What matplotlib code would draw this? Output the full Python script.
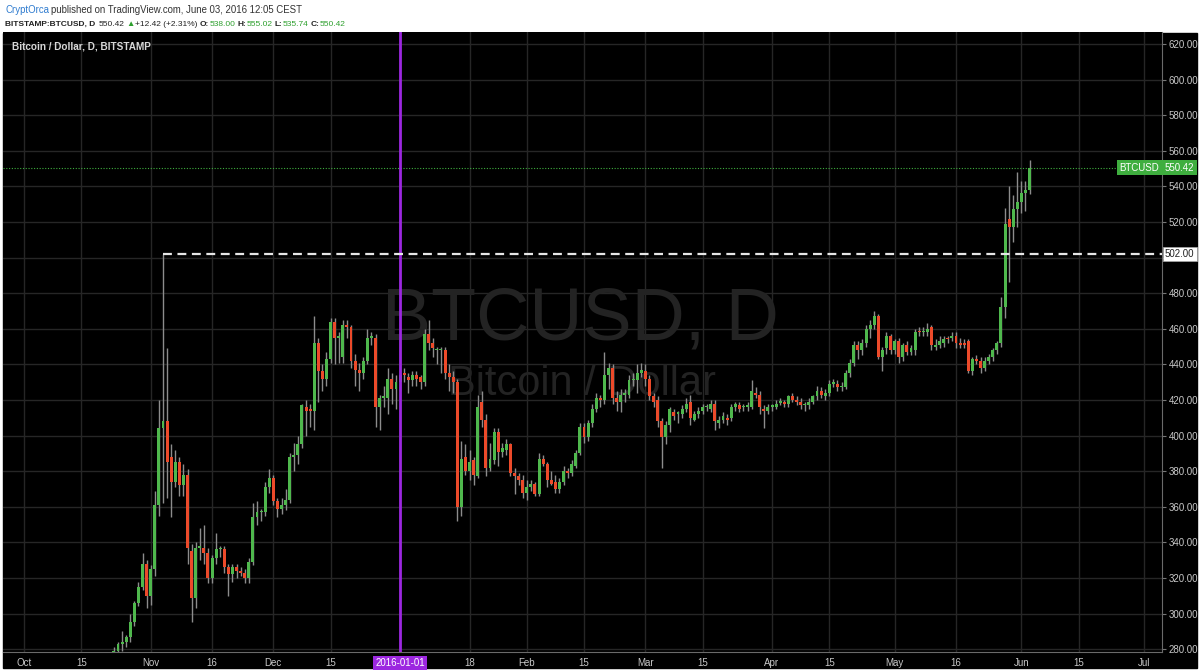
import matplotlib
matplotlib.use("Agg")
import matplotlib.pyplot as plt
import matplotlib.dates as mdates
from matplotlib import font_manager
from matplotlib.patches import Rectangle
import matplotlib.transforms as mtransforms
import numpy as np
import pandas as pd

# daily candles, BITSTAMP BTCUSD, (open, high, low, close)
oct_2015 = [  # from Oct 18
    (262, 264, 259, 263), (263, 266, 261, 264), (264, 272, 263, 270), (270, 272, 264, 266),
    (266, 278, 265, 275), (275, 281, 274, 279), (279, 284, 277, 283), (283, 290, 279, 284),
    (284, 288, 281, 287), (287, 300, 284, 295), (295, 307, 293, 306), (306, 318, 304, 315),
    (315, 334, 313, 328), (328, 330, 303, 310),
]
nov_2015 = [
    (310, 327, 305, 325), (325, 369, 321, 361), (361, 420, 355, 404), (404, 502, 362, 408),
    (408, 449, 365, 385), (388, 395, 354, 374), (374, 392, 371, 385), (385, 388, 366, 372),
    (372, 384, 366, 378), (378, 381, 328, 337), (335, 339, 295, 309), (309, 340, 303, 337),
    (337, 348, 330, 338), (337, 350, 328, 334), (334, 337, 317, 320), (320, 333, 317, 331),
    (331, 345, 328, 336), (336, 338, 332, 336), (336, 338, 323, 326), (326, 328, 310, 322),
    (322, 328, 318, 326), (326, 328, 320, 324), (324, 326, 321, 323), (323, 325, 317, 320),
    (320, 331, 317, 329), (329, 362, 327, 354), (354, 363, 350, 357), (357, 359, 352, 357),
    (357, 374, 355, 371), (371, 381, 368, 376),
]
dec_2015 = [
    (376, 378, 361, 363), (363, 365, 354, 359), (359, 365, 356, 361), (361, 370, 358, 364),
    (364, 390, 362, 388), (388, 396, 380, 389), (389, 400, 384, 395), (395, 418, 393, 417),
    (416, 420, 400, 414), (415, 418, 405, 414), (414, 467, 403, 452), (452, 455, 419, 436),
    (436, 440, 425, 432), (432, 447, 428, 443), (443, 466, 441, 464), (464, 466, 440, 455),
    (455, 458, 441, 456), (444, 465, 441, 462), (462, 465, 455, 461), (461, 462, 438, 442),
    (442, 446, 428, 437), (437, 441, 425, 435), (435, 444, 432, 442), (442, 460, 440, 455),
    (455, 458, 451, 455), (455, 457, 405, 416), (416, 423, 403, 421), (421, 428, 416, 422),
    (421, 438, 412, 432), (432, 435, 418, 426), (426, 434, 415, 430),
]
jan_2016 = [
    (430, 437, 425, 434), (435, 438, 430, 434), (433, 435, 424, 431), (431, 436, 428, 434),
    (434, 436, 428, 432), (433, 434, 426, 430), (430, 460, 428, 457), (457, 465, 448, 452),
    (452, 455, 444, 449), (448, 450, 440, 448), (448, 450, 435, 448.5), (448, 450, 432, 435),
    (435, 440, 425, 433), (433, 436, 424, 430), (430, 432, 352, 360), (360, 397, 355, 387),
    (388, 395, 378, 380), (380, 392, 375, 385), (386, 388, 372, 378), (377, 423, 376, 416),
    (419, 425, 405, 409), (409, 412, 377, 382), (382, 396, 380, 387), (386, 404, 384, 402),
    (402, 404, 383, 391), (391, 396, 388, 393), (392, 398, 389, 395), (395, 396, 377, 379),
    (379, 382, 367, 377), (377, 379, 372, 375), (375, 378, 365, 368),
]
feb_2016 = [
    (368, 375, 364, 371), (371, 375, 369, 373), (373, 374, 366, 367), (367, 390, 366, 387),
    (387, 389, 383, 384), (384, 385, 371, 375), (375, 380, 372, 373), (374, 378, 368, 370),
    (370, 376, 368, 374), (374, 383, 372, 380), (380, 382, 376, 379), (379, 386, 377, 384),
    (383, 392, 382, 390), (390, 407, 389, 405), (405, 407, 396, 399), (399, 409, 397, 407),
    (407, 418, 405, 415), (415, 424, 413, 421), (421, 423, 416, 420), (420, 447, 418, 434),
    (434, 441, 426, 438), (438, 440, 418, 421), (421, 425, 414, 419), (419, 426, 413, 423),
    (423, 426, 419, 424), (423, 434, 421, 431), (431, 435, 428, 431), (431, 440, 424, 435),
    (435, 441, 433, 437),
]
mar_2016 = [
    (436, 440, 428, 432), (432, 434, 420, 422), (422, 424, 416, 419), (420, 422, 405, 408),
    (408, 410, 382, 399), (399, 408, 395, 406), (406, 416, 402, 415), (413, 415, 409, 411),
    (412, 414, 407, 413), (412, 417, 410, 415), (415, 421, 413, 418), (419, 423, 406, 410),
    (409, 414, 408, 412), (412, 416, 410, 414), (414, 418, 412, 416), (416, 418, 414, 416.5),
    (415, 420, 413, 418), (418, 420, 403, 408), (407, 411, 404, 409), (409, 413, 407, 411),
    (410, 412, 406, 409), (410, 418, 408, 416), (416, 419, 414, 418), (417, 419, 413, 415),
    (416, 418, 414, 416.5), (416, 419, 414, 417), (416, 431, 415, 425), (424, 427, 421, 423),
    (423, 425, 412, 416), (415, 417, 404, 414), (414, 418, 412, 416),
]
apr_2016 = [
    (416, 418, 414, 417), (416, 420, 415, 418), (418.5, 421, 417, 419), (418.5, 420, 416, 418),
    (418, 423, 416, 422), (422, 424, 419, 420), (420, 422, 417, 419), (419, 421, 415, 417),
    (417, 419, 414, 417.5), (417, 421, 415, 419), (419, 423, 418, 422), (422, 428, 420, 425),
    (425, 427, 421, 423), (422, 426, 420, 424), (424, 431, 422, 429), (429, 432, 427, 430),
    (429, 431, 425, 427), (427, 430, 425, 428), (427, 437, 426, 435), (435, 443, 433, 441),
    (441, 453, 439, 451), (451, 453, 443, 448), (448, 454, 445, 452), (452, 462, 450, 460),
    (460, 465, 455, 462), (462, 470, 460, 467), (467, 468, 443, 444), (444, 450, 436, 448),
    (449, 458, 446, 456), (456, 457, 446, 448),
]
may_2016 = [
    (448, 454, 446, 453), (453, 455, 441, 444), (444, 452, 442, 451), (451, 453, 445, 447),
    (447, 451, 445, 449), (448, 460, 445, 458), (459, 461, 456, 458), (458, 461, 456, 459),
    (458, 463, 456, 460), (461, 462, 448, 451), (450, 454, 448, 451), (451, 456, 449, 453),
    (452, 456, 450, 454), (455, 456, 452, 454), (455, 458, 453, 456), (456, 458, 449, 452),
    (452, 455, 449, 451), (452, 454, 449, 451), (453, 454, 435, 436), (436, 444, 434, 443),
    (443, 445, 440, 442), (442, 444, 435, 438), (438, 444, 436, 442), (442, 446, 440, 444),
    (444, 449, 442, 448), (448, 453, 446, 452), (452, 478, 450, 472), (472, 528, 466, 519),
    (521.6, 540, 486, 517), (517, 535, 509, 527), (527, 548, 517, 531),
]
jun_2016 = [
    (531, 543, 525, 536), (536, 543, 526, 538), (538.00, 555.02, 535.74, 550.42),
]

price_ticks = list(range(280, 621, 20))
date_ticks = ["2015-10-01", "2015-10-15", "2015-11-01", "2015-11-16", "2015-12-01",
              "2015-12-15", "2016-01-01", "2016-01-18", "2016-02-01", "2016-02-15",
              "2016-03-01", "2016-03-15", "2016-04-01", "2016-04-15", "2016-05-01",
              "2016-05-16", "2016-06-01", "2016-06-15", "2016-07-01"]
date_labels = ["Oct", "15", "Nov", "16", "Dec", "15", "2016-01-01", "18", "Feb", "15",
               "Mar", "15", "Apr", "15", "May", "16", "Jun", "15", "Jul"]
resistance = 502.00
last_close = 550.42

ohlc = np.array(oct_2015 + nov_2015 + dec_2015 + jan_2016 + feb_2016 +
                mar_2016 + apr_2016 + may_2016 + jun_2016, dtype=float)
dates = pd.date_range("2015-10-18", periods=len(ohlc), freq="D")
x = mdates.date2num(dates.to_pydatetime())
o, h, l, c = ohlc.T

UP = "#4fb84d"
DOWN = "#ec4a2a"
GRID = "#262626"
TXT = "#c8c8c8"
FONT = ["Liberation Sans", "DejaVu Sans"]
plt.rcParams["font.family"] = FONT

# the quote line uses a narrow face when one is installed
installed = {f.name for f in font_manager.fontManager.ttflist}
if "Liberation Sans Narrow" in installed:
    QUOTE_FONT, QUOTE_SIZE = ["Liberation Sans Narrow", "DejaVu Sans"], 6.6
else:
    QUOTE_FONT, QUOTE_SIZE = FONT, 6.0

W, H = 1200, 671
fig = plt.figure(figsize=(W / 100, H / 100), dpi=100, facecolor="white")


def fx(px):
    return px / W


def fy(py):
    return 1 - py / H


# black chart panel (plot + axes bands), behind the axes
fig.patches.append(Rectangle((fx(3), fy(668)), fx(1194), 635 / H,
                             transform=fig.transFigure, color="black", zorder=-10))

ax = fig.add_axes([fx(3), fy(652), fx(1159), 620 / H])
ax.set_facecolor("black")
ax.set_zorder(1)

t0 = mdates.date2num(pd.Timestamp("2015-10-01").to_pydatetime())
ax.set_xlim(t0 - 5.14, t0 + 278.4)
ax.set_ylim(278.4, 626.7)

# candles
up = c >= o
colors = np.where(up, UP, DOWN)
ax.vlines(x, l, h, color="#8c8c8c", lw=1, zorder=2)
body = np.maximum(np.abs(c - o), 0.7)
ax.bar(x, body, bottom=np.minimum(o, c), width=0.72, color=colors, zorder=3, linewidth=0)

# grid and axes (500.00 label is hidden behind the 502.00 tag)
ax.set_yticks(price_ticks)
ax.set_yticklabels(["" if v == 500 else f"{v:.2f}" for v in price_ticks])
tick_x = mdates.date2num(pd.to_datetime(date_ticks).to_pydatetime())
ax.set_xticks(tick_x)
ax.set_xticklabels(date_labels)
ax.grid(True, color=GRID, lw=1, zorder=0)
ax.set_axisbelow(True)
ax.yaxis.tick_right()
ax.tick_params(axis="y", colors="#777", labelcolor=TXT, labelsize=7, length=3, pad=2)
ax.tick_params(axis="x", colors="#777", labelcolor=TXT, labelsize=7, length=0, pad=4)
for s in ["top", "left"]:
    ax.spines[s].set_visible(False)
for s in ["bottom", "right"]:
    ax.spines[s].set_color("#6a6a6a")
for lab in ax.get_xticklabels():
    if lab.get_text() == "2016-01-01":
        lab.set_color("white")
        lab.set_bbox(dict(facecolor="#9c27e0", edgecolor="none", pad=1.5))

# purple marker line at 2016-01-01
jan1 = mdates.date2num(pd.Timestamp("2016-01-01").to_pydatetime())
ax.axvline(jan1, color="#9c27e0", lw=2, zorder=4)

# horizontal lines
nov4 = mdates.date2num(pd.Timestamp("2015-11-04").to_pydatetime())
ax.hlines(resistance, nov4, ax.get_xlim()[1], color="#e6e6e6", lw=1.6,
          linestyles=(0, (4, 2.5)), zorder=5)
ax.axhline(last_close, color="#3fae3f", lw=0.8, ls=(0, (1, 1.5)), zorder=1)

# watermark
ax.text(0.498, 0.535, "BTCUSD, D", transform=ax.transAxes, ha="center", va="center",
        fontsize=53, color="#232323", zorder=1)
ax.text(0.5, 0.432, "Bitcoin / Dollar", transform=ax.transAxes, ha="center", va="center",
        fontsize=30, color="#232323", zorder=1)
ax.text(0.008, 0.977, "Bitcoin / Dollar, D, BITSTAMP", transform=ax.transAxes,
        ha="left", va="center", fontsize=7.2, color="#d8d8d8", fontweight="bold")

# right axis price tags
blend = mtransforms.blended_transform_factory(ax.transAxes, ax.transData)
ax.text(1.0025, resistance, "502.00", transform=blend, ha="left", va="center", fontsize=7,
        color="#222", clip_on=False, zorder=6,
        bbox=dict(facecolor="white", edgecolor="#aaa", pad=1.6, lw=0.5))
ax.text(1.0025, last_close, "550.42", transform=blend, ha="left", va="center", fontsize=7,
        color="white", clip_on=False, zorder=6,
        bbox=dict(facecolor="#3fae3f", edgecolor="none", pad=1.8))
ax.text(0.9975, last_close, "BTCUSD", transform=blend, ha="right", va="center", fontsize=7,
        color="white", clip_on=False, zorder=6,
        bbox=dict(facecolor="#3fae3f", edgecolor="none", pad=1.8))

# header, laid out left to right
renderer = fig.canvas.get_renderer()


def header_line(pieces, py, size, family):
    px = 5
    for s, col, wt, gap in pieces:
        t = fig.text(fx(px), fy(py), s, color=col, fontsize=size, fontweight=wt,
                     va="center", family=family)
        px += t.get_window_extent(renderer).width + gap


header_line([("CryptOrca", "#2e7bcf", "normal", 2),
             ("published on TradingView.com, June 03, 2016 12:05 CEST", "#333", "normal", 0)],
            10, 6.9, FONT)
header_line([("BITSTAMP:BTCUSD, D", "#222", "bold", 3), ("550.42", "#222", "normal", 2),
             ("\u25b2", "#2ea02e", "normal", 1), ("+12.42 (+2.31%)", "#222", "normal", 2),
             ("O:", "#222", "bold", 0.5), ("538.00", "#2ea02e", "normal", 2),
             ("H:", "#222", "bold", 0.5), ("555.02", "#2ea02e", "normal", 2),
             ("L:", "#222", "bold", 0.5), ("535.74", "#2ea02e", "normal", 2),
             ("C:", "#222", "bold", 0.5), ("550.42", "#2ea02e", "normal", 0)],
            24, QUOTE_SIZE, QUOTE_FONT)

fig.savefig("out.png", dpi=100, facecolor="white")
